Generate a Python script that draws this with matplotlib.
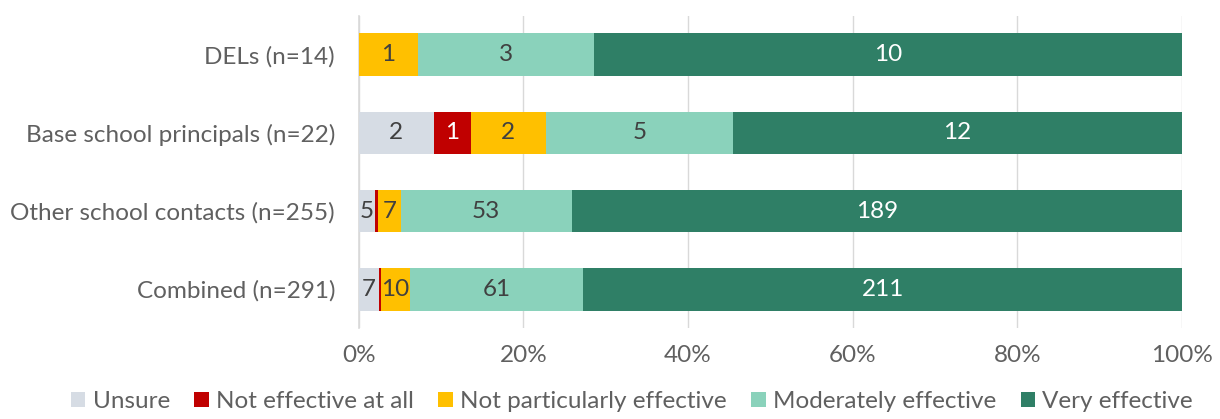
import numpy as np
import matplotlib.pyplot as plt

# data
groups = ["DELs (n=14)", "Base school principals (n=22)",
          "Other school contacts (n=255)", "Combined (n=291)"]
series = ["Unsure", "Not effective at all", "Not particularly effective",
          "Moderately effective", "Very effective"]
unsure = [0, 2, 5, 7]
not_effective = [0, 1, 1, 1]
not_particularly = [1, 2, 7, 10]
moderately = [3, 5, 53, 61]
very = [10, 12, 189, 211]

colors = ["#D6DCE4", "#C00000", "#FFC000", "#8AD2BB", "#2F7F66"]
label_colors = ["#404040", "white", "#404040", "#404040", "white"]

plt.rcParams['font.family'] = ['Lato', 'DejaVu Sans']
grey = "#606060"
fs = 17.5

counts = np.array([unsure, not_effective, not_particularly, moderately, very], dtype=float)
totals = counts.sum(axis=0)
pct = counts / totals * 100

fig = plt.figure(figsize=(12.2, 4.19), dpi=100)
ax = fig.add_axes([0.294, 0.217, 0.675, 0.745])

ypos = np.arange(len(groups))[::-1]
left = np.zeros(len(groups))
for i, name in enumerate(series):
    ax.barh(ypos, pct[i], left=left, height=0.55, color=colors[i],
            label=name, zorder=3, linewidth=0)
    for j in range(len(groups)):
        v = counts[i, j]
        # small slivers are left unlabelled
        if v > 0 and pct[i, j] > 1.5:
            ax.text(left[j] + pct[i, j] / 2, ypos[j], f"{int(v)}",
                    ha="center", va="center", fontsize=fs,
                    color=label_colors[i], zorder=4)
    left += pct[i]

ax.set_xlim(0, 100)
ax.set_ylim(-0.5, 3.5)
ax.set_xticks(np.arange(0, 101, 20))
ax.set_xticklabels([f"{t}%" for t in range(0, 101, 20)])
ax.set_yticks(ypos)
ax.set_yticklabels(groups)
ax.tick_params(axis="both", length=0, labelsize=fs, colors=grey)
ax.tick_params(axis="x", pad=12)
ax.tick_params(axis="y", pad=17)
ax.grid(axis="x", color="#D9D9D9", linewidth=1, zorder=0)
for s in ["top", "right", "bottom"]:
    ax.spines[s].set_visible(False)
ax.spines["left"].set_color("#D9D9D9")
ax.spines["left"].set_linewidth(1.2)

fig.legend(loc="lower center", bbox_to_anchor=(0.518, -0.035), ncol=5,
           frameon=False, fontsize=fs, labelcolor=grey,
           handlelength=0.6, handleheight=0.6, handletextpad=0.3,
           columnspacing=1.0)

fig.savefig("out.png", dpi=100)
